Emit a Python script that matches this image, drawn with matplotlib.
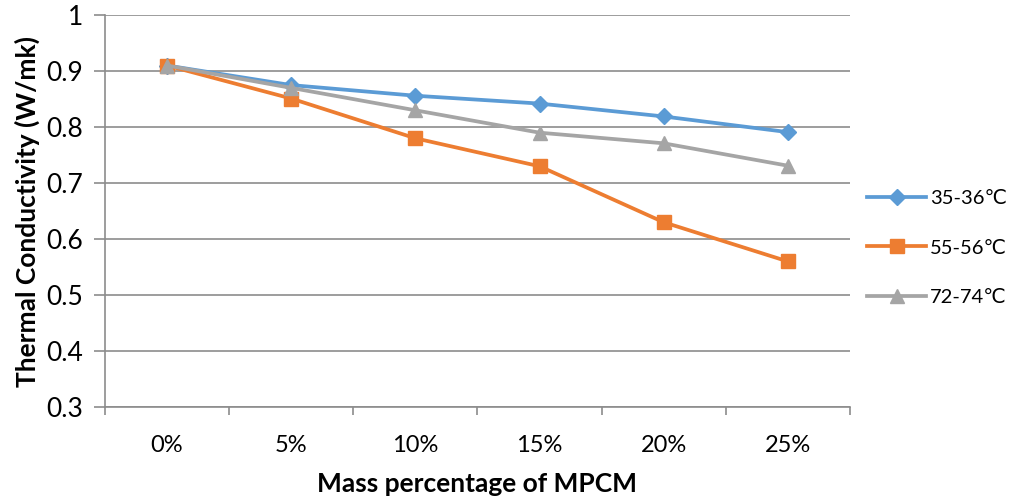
import matplotlib
matplotlib.use('Agg')
import matplotlib.pyplot as plt

# data
categories = ['0%', '5%', '10%', '15%', '20%', '25%']
series_names = ['35-36\u2103', '55-56\u2103', '72-74\u2103']
low_temp = [0.91, 0.875, 0.856, 0.842, 0.819, 0.791]
mid_temp = [0.91, 0.851, 0.78, 0.73, 0.63, 0.56]
high_temp = [0.91, 0.87, 0.83, 0.79, 0.771, 0.731]

plt.rcParams['font.family'] = ['Lato', 'DejaVu Sans']

fig = plt.figure(figsize=(10.24, 5.04), dpi=100)
ax = fig.add_axes([0.1025, 0.1925, 0.7275, 0.7775])

x = list(range(len(categories)))
ax.plot(x, low_temp, color='#5B9BD5', linewidth=2.7, marker='D', markersize=8, label=series_names[0])
ax.plot(x, mid_temp, color='#ED7D31', linewidth=2.7, marker='s', markersize=10.5, label=series_names[1])
ax.plot(x, high_temp, color='#A5A5A5', linewidth=2.7, marker='^', markersize=10.5, label=series_names[2])

ax.set_xlim(-0.5, len(categories) - 0.5)
ax.set_ylim(0.3, 1.0)
ax.set_yticks([0.3, 0.4, 0.5, 0.6, 0.7, 0.8, 0.9, 1.0])
ax.set_yticklabels(['0.3', '0.4', '0.5', '0.6', '0.7', '0.8', '0.9', '1'])
ax.set_xticks(x)
ax.set_xticklabels(categories)
ax.set_xticks([i - 0.5 for i in range(len(categories) + 1)], minor=True)

ax.grid(True, axis='y', color='#8C8C8C', linewidth=1.2)
ax.set_axisbelow(True)
for side in ['top', 'right']:
    ax.spines[side].set_visible(False)
ax.spines['left'].set_color('#8C8C8C')
ax.spines['bottom'].set_color('#8C8C8C')
ax.spines['left'].set_linewidth(1.2)
ax.spines['bottom'].set_linewidth(1.2)

ax.tick_params(axis='y', length=8, width=1.2, color='#8C8C8C', labelsize=19, pad=8)
ax.tick_params(axis='x', which='major', length=0, labelsize=17, pad=20)
ax.tick_params(axis='x', which='minor', length=6, width=1.2, color='#8C8C8C')

ax.set_xlabel('Mass percentage of MPCM', fontsize=19, fontweight='bold', labelpad=12)
ax.set_ylabel('Thermal Conductivity (W/mk)', fontsize=19, fontweight='bold', labelpad=4)

fig.legend(loc='center left', bbox_to_anchor=(0.847, 0.508), frameon=False, fontsize=14.5,
           handlelength=2.9, labelspacing=1.6, handletextpad=0.2, borderaxespad=0,
           borderpad=0)

plt.savefig('out.png', dpi=100)
